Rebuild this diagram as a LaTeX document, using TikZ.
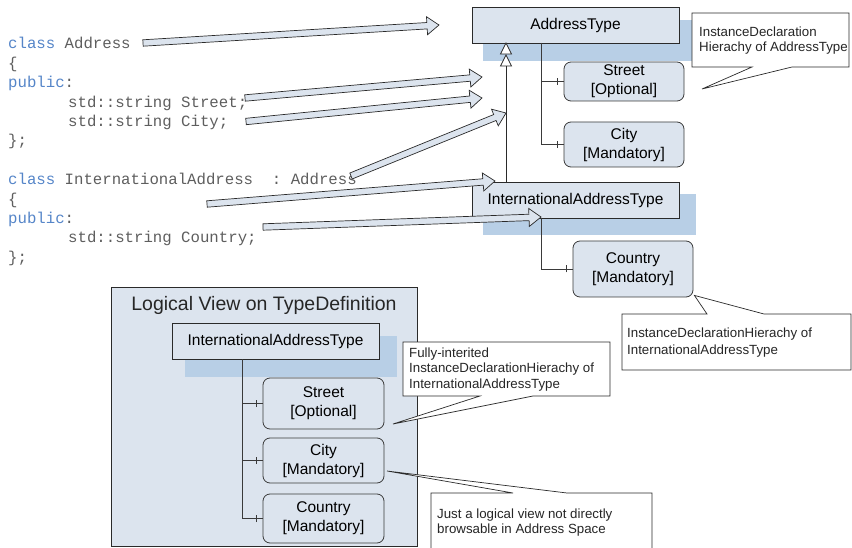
\documentclass[tikz,border=0pt]{standalone}
\usepackage{fontspec}
\setmainfont{Liberation Sans}
\setmonofont{Liberation Mono}
\usetikzlibrary{calc}
\definecolor{boxfill}{HTML}{DCE4EE}
\definecolor{shadowc}{HTML}{B8CFE6}
\definecolor{kw}{HTML}{5585C8}
\definecolor{codec}{HTML}{5E5E5E}
\definecolor{linec}{HTML}{2A2A2A}
\definecolor{treec}{HTML}{3A3A3A}
\tikzset{
  typebox/.style={draw=linec, fill=boxfill, line width=0.8pt, inner sep=0pt,
    font=\fontsize{15.5}{19}\selectfont},
  membox/.style={draw=treec, fill=boxfill, line width=0.8pt, rounded corners=7pt,
    inner sep=0pt, align=center, minimum width=120pt, font=\fontsize{15.5}{19}\selectfont},
  shadowbox/.style={fill=shadowc, draw=none},
  treeline/.style={draw=treec, line width=0.8pt},
  fatarrowstyle/.style={draw=linec, fill=boxfill, line width=0.7pt, line join=miter},
  calloutbox/.style={draw=linec, fill=white, line width=0.7pt},
  callouttext/.style={anchor=base west, inner sep=0pt, font=\fontsize{13.3}{15}\selectfont, text=black!85},
  codetext/.style={anchor=base west, inner sep=0pt, font=\ttfamily\fontsize{15.7}{19}\selectfont, text=codec},
  inhtri/.style={draw=linec, fill=white, line width=0.7pt, line join=miter}
}
\newcommand\fatarrow[2]{%
  \coordinate (fa-h) at ($(#2)!12pt!(#1)$);
  \filldraw[fatarrowstyle] ($(#1)!3.2pt!90:(#2)$) -- ($(fa-h)!3.2pt!90:(#2)$)
    -- ($(fa-h)!9pt!90:(#2)$) -- (#2) -- ($(fa-h)!9pt!-90:(#2)$)
    -- ($(fa-h)!3.2pt!-90:(#2)$) -- ($(#1)!3.2pt!-90:(#2)$) -- cycle;
}
\newcommand\tickat[1]{%
  \draw[treeline] ([xshift=-6.5pt,yshift=-3.5pt]#1.west) -- ([xshift=-6.5pt,yshift=3.5pt]#1.west);
}
\begin{document}
\begin{tikzpicture}[x=1pt,y=-1pt]
\useasboundingbox (0,0) rectangle (852,548);
\clip (0,0) rectangle (852,548);

% ---------- code ----------
\node[codetext] (l1) at (8,49) {\textcolor{kw}{class} Address};
\node[codetext] (l2) at (8,68.4) {\{};
\node[codetext] (l3) at (8,87.8) {\textcolor{kw}{public}:};
\node[codetext] (l4) at (68,107.2) {std::string Street;};
\node[codetext] (l5) at (68,126.6) {std::string City;};
\node[codetext] (l6) at (8,146) {\};};
\node[codetext] (l7) at (8,184.8) {\textcolor{kw}{class} InternationalAddress\ \ : Address};
\node[codetext] (l8) at (8,204.2) {\{};
\node[codetext] (l9) at (8,223.6) {\textcolor{kw}{public}:};
\node[codetext] (l10) at (68,243) {std::string Country;};
\node[codetext] (l11) at (8,262.4) {\};};

% ---------- logical view ----------
\node[draw=linec, fill=boxfill, line width=0.8pt, minimum width=306pt, minimum height=259pt, inner sep=0pt] (lv) at (264,416.5) {};
\node[anchor=base, inner sep=0pt, font=\fontsize{19.5}{23}\selectfont, text=black!85] (lvt) at (264,311) {Logical View on TypeDefinition};

% ---------- shadows ----------
\fill[shadowc] (483,20) rectangle (692,61);
\fill[shadowc] (483,194) rectangle (696,235);
\fill[shadowc] (185,336) rectangle (397,377);

% ---------- type boxes ----------
\node[typebox, minimum width=207pt, minimum height=36pt] (at) at (575.5,25) {AddressType};
\node[typebox, minimum width=207pt, minimum height=36pt] (iat) at (575.5,200) {InternationalAddressType};
\node[typebox, minimum width=207pt, minimum height=36pt] (liat) at (275.5,341) {InternationalAddressType};

% ---------- member boxes ----------
\node[membox, minimum height=39pt] (street) at (624,81.5) {Street\\{}[Optional]};
\node[membox, minimum height=45pt] (city) at (624,144.5) {City\\{}[Mandatory]};
\node[membox, minimum height=56pt] (country) at (633,269) {Country\\{}[Mandatory]};
\node[membox, minimum width=121pt, minimum height=51pt] (lstreet) at (323.5,403.5) {Street\\{}[Optional]};
\node[membox, minimum width=121pt, minimum height=45pt] (lcity) at (323.5,460.5) {City\\{}[Mandatory]};
\node[membox, minimum width=121pt, minimum height=49pt] (lcountry) at (323.5,518.5) {Country\\{}[Mandatory]};

% ---------- trees ----------
\coordinate (atT) at (541,43);
\draw[treeline] (atT) |- (street.west);
\draw[treeline] (atT) |- (city.west);
\tickat{street}\tickat{city}
\coordinate (iatT) at (541,218);
\draw[treeline] (iatT) |- (country.west);
\tickat{country}
\coordinate (liatT) at (242,359);
\draw[treeline] (liatT) |- (lstreet.west);
\draw[treeline] (liatT) |- (lcity.west);
\draw[treeline] (liatT) |- (lcountry.west);
\tickat{lstreet}\tickat{lcity}\tickat{lcountry}

% ---------- inheritance ----------
\coordinate (ihA) at (506,43);
\coordinate (ihB) at (506,55);
\coordinate (ihC) at (506,66);
\draw[draw=linec, line width=0.8pt] (iat.north -| ihC) -- (ihC);
\filldraw[inhtri] (ihB) -- ++(-5.5,11) -- ++(11,0) -- cycle;
\filldraw[inhtri] (ihA) -- ++(-5.5,11) -- ++(11,0) -- cycle;

% ---------- fat arrows ----------
\coordinate (c1) at (143,43);   \coordinate (t1) at (439,25);
\coordinate (c2) at (245,98);   \coordinate (t2) at (482,77);
\coordinate (c3) at (246,121.5);\coordinate (t3) at (482,98);
\coordinate (c4) at (351,176);  \coordinate (t4) at (506,113);
\coordinate (c5) at (207,204);  \coordinate (t5) at (495,181);
\coordinate (c6) at (263,227);  \coordinate (t6) at (541,217);
\fatarrow{c1}{t1}
\fatarrow{c2}{t2}
\fatarrow{c3}{t3}
\fatarrow{c4}{t4}
\fatarrow{c5}{t5}
\fatarrow{c6}{t6}

% ---------- callouts ----------
\coordinate (p1) at (702,89);
\filldraw[calloutbox] (692,13) -- (849,13) -- (849,67) -- (792,67) -- (p1) -- (752,67) -- (692,67) -- cycle;
\node[callouttext] (k1a) at (699,36.5) {InstanceDeclaration};
\node[callouttext] (k1b) at (699,52) {Hierachy of AddressType};

\coordinate (p2) at (country.south east);
\filldraw[calloutbox] (622,314) -- (707,314) -- ([shift={(1,-2)}]p2) -- (764,314) -- (851,314) -- (851,370) -- (622,370) -- cycle;
\node[callouttext] (k2a) at (627,337.5) {InstanceDeclarationHierachy of};
\node[callouttext] (k2b) at (627,354) {InternationalAddressType};

\coordinate (p3) at (393,424);
\filldraw[calloutbox] (403,342) -- (610,342) -- (610,396) -- (533,396) -- (p3) -- (480,396) -- (403,396) -- cycle;
\node[callouttext] (k3a) at (409,357) {Fully-interited};
\node[callouttext] (k3b) at (409,372.5) {InstanceDeclarationHierachy of};
\node[callouttext] (k3c) at (409,388) {InternationalAddressType};

\coordinate (p4) at (387,471);
\filldraw[calloutbox] (431,560) -- (431,493) -- (513,493) -- (p4) -- (567,493) -- (652,493) -- (652,560);
\node[callouttext] (k4a) at (437,518) {Just a logical view not directly};
\node[callouttext] (k4b) at (437,533) {browsable in Address Space};
\end{tikzpicture}
\end{document}
